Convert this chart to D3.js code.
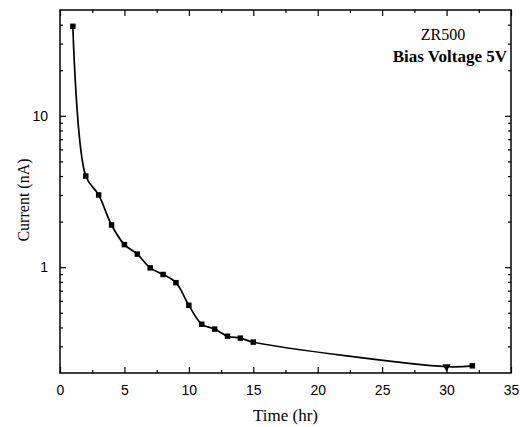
<!DOCTYPE html>
<html>
<head>
<meta charset="utf-8">
<script src="https://cdnjs.cloudflare.com/ajax/libs/d3/7.8.5/d3.min.js"></script>
<style>
  body { margin: 0; background: #fff; }
  svg { display: block; }
</style>
</head>
<body>
<div id="chart"></div>
<script>
// data
var timeHr = [1, 2, 3, 4, 5, 6, 7, 8, 9, 10, 11, 12, 13, 14, 15, 30, 32];
var currentNA = [39, 4.0, 3.0, 1.9, 1.41, 1.22, 0.99, 0.895, 0.79, 0.56, 0.42, 0.39, 0.35, 0.34, 0.32, 0.22, 0.223];
var markerShape = ["s", "s", "s", "s", "s", "s", "s", "s", "s", "s", "s", "s", "s", "s", "s", "t", "s"];

var xTicks = [0, 5, 10, 15, 20, 25, 30, 35];
var xMinor = [2.5, 7.5, 12.5, 17.5, 22.5, 27.5, 32.5];
var yTicks = [1, 10];
var yMinor = [0.3, 0.4, 0.5, 0.6, 0.7, 0.8, 0.9, 2, 3, 4, 5, 6, 7, 8, 9, 20, 30, 40];

var svgWidth = 520;
var svgHeight = 427;

var margin = { top: 10, right: 9, bottom: 54, left: 60 };
var width = svgWidth - margin.left - margin.right;
var height = svgHeight - margin.top - margin.bottom;

var svg = d3.select("#chart")
  .append("svg")
  .attr("width", svgWidth)
  .attr("height", svgHeight);

var chartGroup = svg.append("g")
  .attr("transform", `translate(${margin.left}, ${margin.top})`);

var xScale = d3.scaleLinear()
  .domain([0, 35])
  .range([0, width]);

var yScale = d3.scaleLog()
  .domain([0.2, 50])
  .range([height, 0]);

var sansFont = "'Liberation Sans', Arial, sans-serif";
var serifFont = "'Liberation Serif', 'Times New Roman', serif";

// axes, ticks pointing inward
function styleAxis(g) {
  g.select(".domain").remove();
  g.selectAll("line").attr("stroke", "#000").attr("stroke-width", 1.2);
  g.selectAll("text").attr("font-family", sansFont).attr("font-size", 14).attr("fill", "#000");
}

chartGroup.append("g")
  .attr("transform", `translate(0, ${height})`)
  .call(d3.axisBottom(xScale).tickValues(xTicks).tickFormat(d3.format("d"))
    .tickSizeInner(-6).tickSizeOuter(0).tickPadding(12))
  .call(styleAxis);

chartGroup.append("g")
  .attr("transform", `translate(0, ${height})`)
  .call(d3.axisBottom(xScale).tickValues(xMinor).tickFormat("")
    .tickSizeInner(-3).tickSizeOuter(0))
  .call(styleAxis);

chartGroup.append("g")
  .call(d3.axisTop(xScale).tickValues(xTicks).tickFormat("")
    .tickSizeInner(-6).tickSizeOuter(0))
  .call(styleAxis);

chartGroup.append("g")
  .call(d3.axisTop(xScale).tickValues(xMinor).tickFormat("")
    .tickSizeInner(-3).tickSizeOuter(0))
  .call(styleAxis);

chartGroup.append("g")
  .call(d3.axisLeft(yScale).tickValues(yTicks).tickFormat(d3.format("d"))
    .tickSizeInner(-6).tickSizeOuter(0).tickPadding(12))
  .call(styleAxis);

chartGroup.append("g")
  .call(d3.axisLeft(yScale).tickValues(yMinor).tickFormat("")
    .tickSizeInner(-3).tickSizeOuter(0))
  .call(styleAxis);

chartGroup.append("g")
  .attr("transform", `translate(${width}, 0)`)
  .call(d3.axisRight(yScale).tickValues(yTicks).tickFormat("")
    .tickSizeInner(-6).tickSizeOuter(0))
  .call(styleAxis);

chartGroup.append("g")
  .attr("transform", `translate(${width}, 0)`)
  .call(d3.axisRight(yScale).tickValues(yMinor).tickFormat("")
    .tickSizeInner(-3).tickSizeOuter(0))
  .call(styleAxis);

// frame
chartGroup.append("rect")
  .attr("x", 0)
  .attr("y", 0)
  .attr("width", width)
  .attr("height", height)
  .attr("fill", "none")
  .attr("stroke", "#000")
  .attr("stroke-width", 1.5);

// smooth curve through the points
var points = timeHr.map((t, i) => [t, currentNA[i], markerShape[i]]);

var line = d3.line()
  .x(d => xScale(d[0]))
  .y(d => yScale(d[1]))
  .curve(d3.curveCatmullRom.alpha(0.5));

chartGroup.append("path")
  .datum(points)
  .attr("d", line)
  .attr("fill", "none")
  .attr("stroke", "#000")
  .attr("stroke-width", 1.7);

chartGroup.selectAll(".marker")
  .data(points)
  .enter()
  .append("path")
  .attr("class", "marker")
  .attr("d", d => d3.symbol()
    .type(d[2] === "t" ? d3.symbolTriangle : d3.symbolSquare)
    .size(30)())
  .attr("transform", d => `translate(${xScale(d[0])}, ${yScale(d[1])})` + (d[2] === "t" ? " rotate(180)" : ""))
  .attr("fill", "#000");

// annotation
chartGroup.append("text")
  .attr("x", 443 - margin.left)
  .attr("y", 40 - margin.top)
  .attr("text-anchor", "middle")
  .attr("font-family", serifFont)
  .attr("font-size", 16)
  .text("ZR500");

chartGroup.append("text")
  .attr("x", 507 - margin.left)
  .attr("y", 62 - margin.top)
  .attr("text-anchor", "end")
  .attr("font-family", serifFont)
  .attr("font-size", 17)
  .attr("font-weight", "bold")
  .text("Bias Voltage 5V");

// axis labels
svg.append("text")
  .attr("x", margin.left + width / 2)
  .attr("y", 421)
  .attr("text-anchor", "middle")
  .attr("font-family", serifFont)
  .attr("font-size", 17)
  .text("Time (hr)");

svg.append("text")
  .attr("transform", `translate(29, 200) rotate(-90)`)
  .attr("text-anchor", "middle")
  .attr("font-family", serifFont)
  .attr("font-size", 16)
  .text("Current (nA)");
</script>
</body>
</html>
